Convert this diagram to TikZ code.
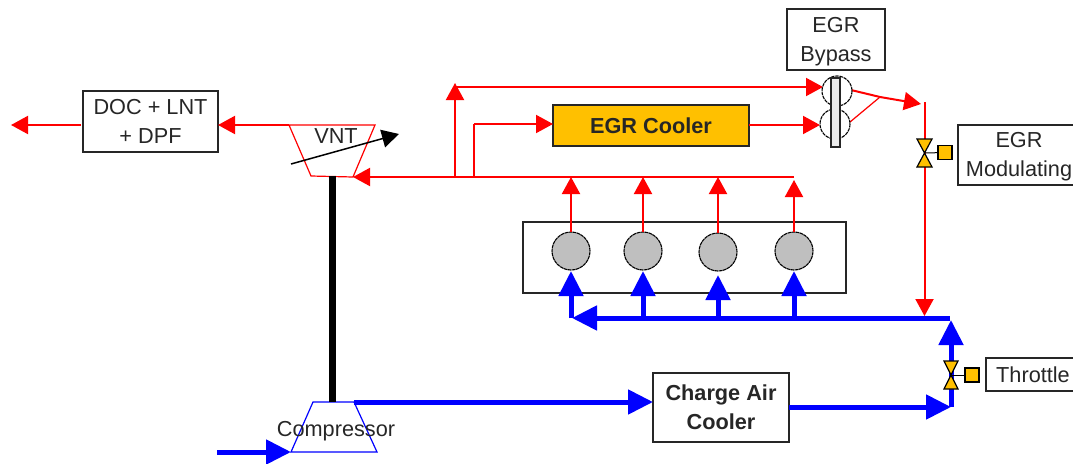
\documentclass[tikz,border=0pt]{standalone}
\usepackage{fontspec}
\setmainfont{Liberation Sans}
\usetikzlibrary{arrows.meta,positioning,calc}
\definecolor{gold}{HTML}{FFC000}

\begin{document}
\begin{tikzpicture}[x=1pt,y=-1pt,
    box/.style={draw=black!85, line width=1.5pt, outer sep=0pt, align=center, inner sep=0pt, font=\fontsize{21.7}{28.5}\selectfont, text=black!85},
    label/.style={inner sep=0pt, font=\fontsize{21.7}{25}\selectfont, text=black!85},
    cyl/.style={circle, draw=black, line width=1.1pt, dash pattern=on 3.5pt off 0.6pt, fill=black!25, minimum size=38pt, inner sep=0pt, outer sep=0pt},
    arrred/.style={draw=red, line width=2pt, -{Triangle[length=17pt,width=18pt]}},
    arrblue/.style={draw=blue, line width=5pt, -{Triangle[length=25pt,width=24pt]}},
    linered/.style={draw=red, line width=2pt},
    lineblue/.style={draw=blue, line width=5pt},
    valve/.style={draw=black, line width=1.2pt, fill=gold},
    actuator/.style={draw=black, line width=1.2pt, fill=gold, minimum size=14pt, inner sep=0pt, outer sep=0pt}
]
\useasboundingbox (0,0) rectangle (1073,463);

% boxes
\node[box, minimum width=135pt, minimum height=61pt] (doc) at (150.5,121.5) {DOC + LNT\\+ DPF};
\node[box, minimum width=98pt, minimum height=61pt] (bypass) at (836,39.5) {\rule{0pt}{20pt}EGR\\Bypass};
\node[box, minimum width=122pt, minimum height=60pt] (modulating) at (1019,155) {\rule{0pt}{18pt}EGR\\Modulating};
\node[box, minimum width=94pt, minimum height=33pt] (throttle) at (1033,374.5) {Throttle};
\node[box, minimum width=136pt, minimum height=69pt, font=\fontsize{21.7}{29}\selectfont\bfseries] (aircooler) at (721,407.5) {Charge Air\\Cooler};
\node[box, minimum width=196pt, minimum height=41pt, fill=gold, font=\fontsize{21.7}{25}\selectfont\bfseries, text=black!85] (egrcooler) at (651,125.5) {EGR Cooler};
\node[box, minimum width=323pt, minimum height=71pt] (engine) at (684.5,257.5) {};

% cylinders
\node[cyl] (cyl1) at (571,251) {};
\node[cyl] (cyl2) at (643,251) {};
\node[cyl] (cyl3) at (718,252) {};
\node[cyl] (cyl4) at (794,251) {};

% junction points
\coordinate (vntTL) at (289,125);
\coordinate (vntTR) at (375,125);
\coordinate (vntBL) at (311,176);
\coordinate (vntBR) at (353,177);
\coordinate (compTL) at (313,402);
\coordinate (compTR) at (354,402);
\coordinate (compBL) at (291,452);
\coordinate (compBR) at (377,452);
\coordinate (shaftTop) at (332,176);
\coordinate (exhaust) at (11,125);
\coordinate (manEnd) at (794,177);
\coordinate (branchA) at (455,177);
\coordinate (branchAtop) at (455,83);
\coordinate (branchB) at (474,177);
\coordinate (branchBtop) at (474,124);
\coordinate (bypassIn) at (823,87);
\coordinate (coolerOut) at (820,125);
\coordinate (bypassOutA) at (851,90);
\coordinate (bypassOutB) at (850,122);
\coordinate (bypassJoin) at (880,97);
\coordinate (bypassEnd) at (921,104);
\coordinate (egrTop) at (924.5,102);
\coordinate (egrEnd) at (924.5,316);
\coordinate (egrValve) at (924.5,153);
\coordinate (thrValve) at (951,375);
\coordinate (intakeR) at (950,318);
\coordinate (intakeL) at (572,318);
\coordinate (thrCorner) at (951,407);
\coordinate (thrEnd) at (951,320);
\coordinate (inlet) at (217,452);

% turbine and compressor
\draw[red, line width=1.2pt] (vntTL) -- (vntTR) -- (vntBR) -- (vntBL) -- cycle;
\draw[blue, line width=1.2pt] (compTL) -- (compTR) -- (compBR) -- (compBL) -- cycle;
\draw[black, line width=7pt] (shaftTop) -- (shaftTop |- compTL);
\draw[black, line width=1.5pt, -{Triangle[length=17pt,width=18pt]}] (291,164) -- (399,134);
\node[label] (vnt) at (336,136) {VNT};
\node[label] (compressor) at (336,431) {Compressor};

% exhaust side
\draw[arrred] (vntTL) -- (vntTL -| doc.east);
\draw[arrred] (doc.west |- exhaust) ++(-2,0) -- (exhaust);
\draw[arrred] (manEnd) -- (vntBR);
\draw[arrred] (branchA) -- (branchAtop);
\draw[arrred] (455,87) -- (bypassIn);
\draw[linered] (branchB) -- (branchBtop);
\draw[arrred] (branchBtop) -- (branchBtop -| egrcooler.west);
\draw[arrred] (coolerOut -| egrcooler.east) -- (coolerOut);
\draw[linered] (bypassOutA) -- (bypassJoin);
\draw[arrred] (bypassJoin) -- (bypassEnd);
\draw[red, line width=1.2pt] (bypassOutB) -- (bypassJoin);
\draw[arrred] (egrTop) -- (egrEnd);
\draw[arrred] (cyl1.north) -- (571,177);
\draw[arrred] (cyl2.north) -- (643,177);
\draw[arrred] (cyl3.north) -- (718,177);
\draw[arrred] (cyl4.north) -- (794,180);

% intake side
\draw[arrblue] (inlet) -- (compBL);
\draw[arrblue] (compTR) -- (compTR -| aircooler.west);
\draw[arrblue] (aircooler.east |- thrCorner) -- (thrCorner);
\draw[arrblue] (thrCorner) -- (thrEnd);
\draw[arrblue] (intakeR) -- (intakeL);
\draw[arrblue] (571,318) -- (571,271);
\draw[arrblue] (643,318) -- (643,271);
\draw[arrblue] (718,318) -- (718,275);
\draw[arrblue] (794,318) -- (794,271);

% bypass valve
\draw[black, line width=1.1pt, dash pattern=on 3.5pt off 0.8pt, fill=white] (837,91) circle (15);
\draw[black, line width=1.1pt, dash pattern=on 3.5pt off 0.8pt, fill=white] (835,124) circle (15);
\draw[black!85, line width=1.2pt, fill=black!8] (831,78) rectangle (840,147);

% control valves
\node[actuator] (egrAct) at (945,152.5) {};
\draw[black, line width=1pt] (egrValve) -- (egrAct);
\draw[valve] (917,139) -- (932,139) -- (egrValve) -- cycle;
\draw[valve] (917,167) -- (932,167) -- (egrValve) -- cycle;
\node[actuator] (thrAct) at (972,375) {};
\draw[black, line width=1pt] (thrValve) -- (thrAct);
\draw[valve] (944,361) -- (958,361) -- (thrValve) -- cycle;
\draw[valve] (944,389) -- (958,389) -- (thrValve) -- cycle;
\end{tikzpicture}
\end{document}
